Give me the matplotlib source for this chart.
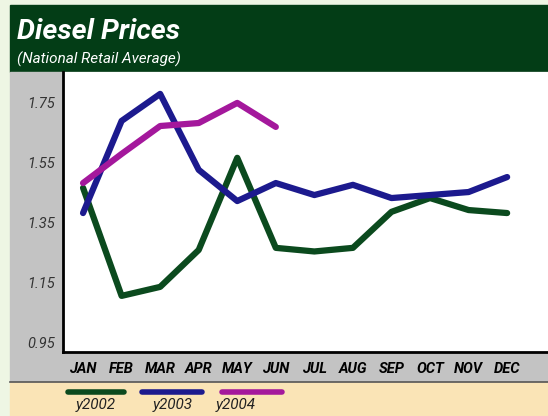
"""
Diesel Prices chart - national retail average by month
"""

import matplotlib
matplotlib.use("Agg")
import matplotlib.pyplot as plt
from matplotlib.patches import Rectangle

# data
months = ['JAN', 'FEB', 'MAR', 'APR', 'MAY', 'JUN',
          'JUL', 'AUG', 'SEP', 'OCT', 'NOV', 'DEC']
y2002 = [1.467, 1.107, 1.137, 1.26, 1.567, 1.267,
         1.255, 1.267, 1.387, 1.433, 1.393, 1.383]
y2003 = [1.383, 1.69, 1.78, 1.527, 1.423, 1.483,
         1.443, 1.477, 1.433, 1.443, 1.453, 1.503]
y2004 = [1.483, 1.58, 1.673, 1.683, 1.75, 1.67]
y_ticks = [0.95, 1.15, 1.35, 1.55, 1.75]
series_names = ['y2002', 'y2003', 'y2004']

colors = ['#0b4a1e', '#1c1a8e', '#a4189c']
W, H = 548, 416
narrow = ['Roboto', 'DejaVu Sans']


def fx(px):
    return px / W


def fy(py):
    return 1 - py / H


fig = plt.figure(figsize=(W / 100, H / 100), dpi=100)
fig.patch.set_facecolor('#eef6e4')

# background blocks (behind the axes)
fig.patches.append(Rectangle((fx(10), fy(72)), 1, (72 - 5) / H,
                             transform=fig.transFigure, color='#033d16', zorder=-5))
fig.patches.append(Rectangle((fx(10), fy(382)), 1, (382 - 72) / H,
                             transform=fig.transFigure, color='#c3c3c3', zorder=-5))
fig.patches.append(Rectangle((fx(10), 0), 1, (416 - 382) / H,
                             transform=fig.transFigure, color='#fae4b6', zorder=-5))
fig.add_artist(plt.Line2D([fx(10), 1], [fy(382), fy(382)], color='#555555', lw=1.2))

# title
fig.text(fx(17), fy(39), 'Diesel Prices', color='white', fontsize=20.5,
         fontweight='bold', fontstyle='italic', family=narrow)
fig.text(fx(17), fy(64), '(National Retail Average)', color='white', fontsize=11,
         fontstyle='italic', family=narrow)

# plot area
ax = fig.add_axes([fx(63), fy(352), 1 - fx(63), (352 - 72) / H])
ax.set_zorder(2)
ax.set_facecolor('white')
x = list(range(len(months)))
for vals, c in zip([y2002, y2003, y2004], colors):
    ax.plot(x[:len(vals)], vals, color=c, lw=4.5,
            solid_capstyle='round', solid_joinstyle='round')

ax.set_xlim(-0.52, 12.06)
ax.set_ylim(0.92, 1.853)
ax.set_yticks(y_ticks)
ax.set_yticklabels([f'{v:.2f}' for v in y_ticks], fontstyle='italic',
                   fontsize=10.5, color='#333333', family=narrow)
ax.set_xticks(x)
ax.set_xticklabels(months, fontstyle='italic', fontweight='bold',
                   fontsize=10.5, color='black', family=narrow)
ax.tick_params(length=0, pad=6)
ax.tick_params(axis='x', pad=7)
for side in ['top', 'right']:
    ax.spines[side].set_visible(False)
for side in ['left', 'bottom']:
    ax.spines[side].set_linewidth(2)
    ax.spines[side].set_color('black')

# legend strip
legend_x = [(68, 124), (142, 202), (222, 282)]
label_x = [96, 173, 236]
for (x0, x1), lx, c, name in zip(legend_x, label_x, colors, series_names):
    fig.add_artist(plt.Line2D([fx(x0), fx(x1)], [fy(392), fy(392)], color=c,
                              lw=4, solid_capstyle='round'))
    fig.text(fx(lx), fy(405), name, ha='center', va='center', fontsize=11,
             fontstyle='italic', color='#222222', family=narrow)

fig.savefig('out.png', dpi=100)
